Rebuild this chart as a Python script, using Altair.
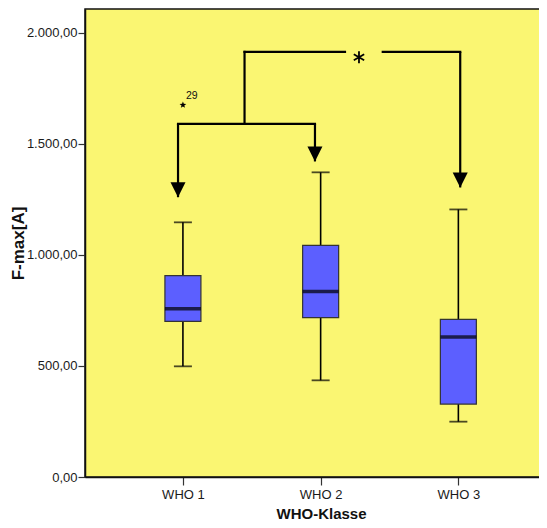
import json
import math
import altair as alt
import pandas as pd

# ---------------- data ----------------
categories = ["WHO 1", "WHO 2", "WHO 3"]
whisker_low = [498, 435, 249]
q1 = [700, 717, 328]
median = [757, 835, 630]
q3 = [906, 1042, 709]
whisker_high = [1146, 1371, 1204]

outlier_cat = ["WHO 1"]
outlier_val = [1674]
outlier_label = ["29"]

y_ticks = [0, 500, 1000, 1500, 2000]

# significance bracket (x in category-index units, y in data units)
bracket_low_level = 1589
bracket_high_level = 1913
arrow_x = [0.9645, 1.9588, 3.0135]
arrow_from = [bracket_low_level, bracket_low_level, bracket_high_level]
arrow_tip = [1259, 1420, 1303]
connector_x = 1.4474
upper_seg_x = [connector_x, 2.4510]
upper_seg_x2 = [2.1768, 3.0135]
sig_x = [2.2784]
sig_y = [1889]
sig_label = ["*"]

# ---------------- frames ----------------
box_df = pd.DataFrame({
    "cat": categories,
    "xi": [categories.index(c) + 1 for c in categories],
    "low": whisker_low, "q1": q1, "med": median, "q3": q3, "high": whisker_high,
})
out_df = pd.DataFrame({
    "xi": [categories.index(c) + 1 for c in outlier_cat],
    "v": outlier_val, "lab": outlier_label,
})
lower_h_df = pd.DataFrame({"xi": [arrow_x[0]], "xi2": [arrow_x[1]],
                           "v": [bracket_low_level]})
conn_df = pd.DataFrame({"xi": [connector_x], "v": [bracket_low_level],
                        "v2": [bracket_high_level]})
upper_h_df = pd.DataFrame({"xi": upper_seg_x, "xi2": upper_seg_x2,
                           "v": [bracket_high_level] * 2})
arrow_df = pd.DataFrame({"xi": arrow_x, "v": arrow_from, "v2": arrow_tip})
sig_df = pd.DataFrame({"xi": sig_x, "v": sig_y, "lab": sig_label})

# ---------------- styles ----------------
YELLOW = "#FAF672"
BLUE = "#5C5FFF"
FONT = "Liberation Sans, Arial, sans-serif"

x_scale = alt.Scale(domain=[0.3253, 3.5710], nice=False, zero=False)
y_scale = alt.Scale(domain=[0, 2106], nice=False, zero=True)

cat_js = json.dumps(categories)
x_axis = alt.Axis(
    values=[1, 2, 3],
    labelExpr=f"{cat_js}[datum.value - 1]",
    grid=False, tickSize=8, tickColor="#333333", tickWidth=1.2,
    domainColor="#111111", domainWidth=1.5,
    labelFont=FONT, labelFontSize=13, labelColor="#1a1a1a", labelPadding=3,
    titleFont=FONT, titleFontSize=15, titleFontWeight="bold", titleColor="#111111",
    titleX=236, titleY=41, titleBaseline="alphabetic", titleAnchor="middle",
)
y_axis = alt.Axis(
    values=y_ticks,
    labelExpr="replace(replace(replace(format(datum.value, ',.2f'), ',', '#'), '.', ','), '#', '.')",
    grid=False, tickSize=7, tickColor="#333333", tickWidth=1.2,
    domainColor="#111111", domainWidth=1.5,
    labelFont=FONT, labelFontSize=13, labelColor="#1a1a1a", labelPadding=1,
    titleFont=FONT, titleFontSize=17, titleFontWeight="bold", titleColor="#111111",
    titleX=-62, titleY=234, titleAngle=270, titleBaseline="alphabetic",
    titleAlign="center",
)


def X(field):
    return alt.X(f"{field}:Q", scale=x_scale, axis=x_axis, title="WHO-Klasse")


def Y(field):
    return alt.Y(f"{field}:Q", scale=y_scale, axis=y_axis, title="F-max[A]")


base = alt.Chart(box_df)

whisker = base.mark_rule(color="#000000", strokeWidth=1.6).encode(
    x=X("xi"), y=Y("low"), y2="high")
caps_low = base.mark_tick(color="#000000", size=18, thickness=1.8, orient="horizontal").encode(
    x=X("xi"), y=Y("low"))
caps_high = base.mark_tick(color="#000000", size=18, thickness=1.8, orient="horizontal").encode(
    x=X("xi"), y=Y("high"))
box = base.mark_bar(size=36, color=BLUE, stroke="#333333", strokeWidth=1.2).encode(
    x=X("xi"), y=Y("q1"), y2="q3")
med = base.mark_tick(color="#000000", size=36, thickness=3.6, orient="horizontal").encode(
    x=X("xi"), y=Y("med"))

# outlier star
pts = []
for k in range(10):
    r = 1.0 if k % 2 == 0 else 0.42
    a = -math.pi / 2 + k * math.pi / 5
    pts.append(f"{r * math.cos(a):.3f},{r * math.sin(a):.3f}")
star_path = "M" + "L".join(pts) + "Z"

outlier = alt.Chart(out_df).mark_point(
    shape=star_path, size=50, filled=True, color="#000000", opacity=1).encode(
    x=X("xi"), y=Y("v"))
outlier_text = alt.Chart(out_df).mark_text(
    align="left", baseline="alphabetic", dx=3, dy=-6,
    font=FONT, fontSize=10.5, color="#111111").encode(
    x=X("xi"), y=Y("v"), text="lab:N")

# bracket lines
LINE = dict(color="#000000", strokeWidth=2.2, strokeCap="square")
lower_h = alt.Chart(lower_h_df).mark_rule(**LINE).encode(x=X("xi"), x2="xi2", y=Y("v"))
conn = alt.Chart(conn_df).mark_rule(**LINE).encode(x=X("xi"), y=Y("v"), y2="v2")
upper_h = alt.Chart(upper_h_df).mark_rule(**LINE).encode(x=X("xi"), x2="xi2", y=Y("v"))
arrows = alt.Chart(arrow_df).mark_rule(color="#000000", strokeWidth=2.2).encode(
    x=X("xi"), y=Y("v"), y2="v2")
heads = alt.Chart(arrow_df).mark_point(
    shape="M-1,-2L1,-2L0,0Z", size=225, filled=True, color="#000000", opacity=1).encode(
    x=X("xi"), y=Y("v2"))
sig = alt.Chart(sig_df).mark_point(
    shape="M0,-1L0,1M-0.866,-0.5L0.866,0.5M-0.866,0.5L0.866,-0.5",
    size=144, filled=False, color="#000000", strokeWidth=1.8, opacity=1).encode(
    x=X("xi"), y=Y("v"))

chart = alt.layer(
    whisker, caps_low, caps_high, box, med, outlier, outlier_text,
    lower_h, conn, upper_h, arrows, heads, sig,
).properties(
    width=457, height=468,
    autosize=alt.AutoSizeParams(type="none"),
    padding={"left": 77, "top": 1, "right": -3, "bottom": 43},
    background="#FFFFFF",
).configure_view(
    fill=YELLOW, stroke="#111111", strokeWidth=1.5,
)

chart.save("out.html", embed_options={"renderer": "svg", "actions": False})
